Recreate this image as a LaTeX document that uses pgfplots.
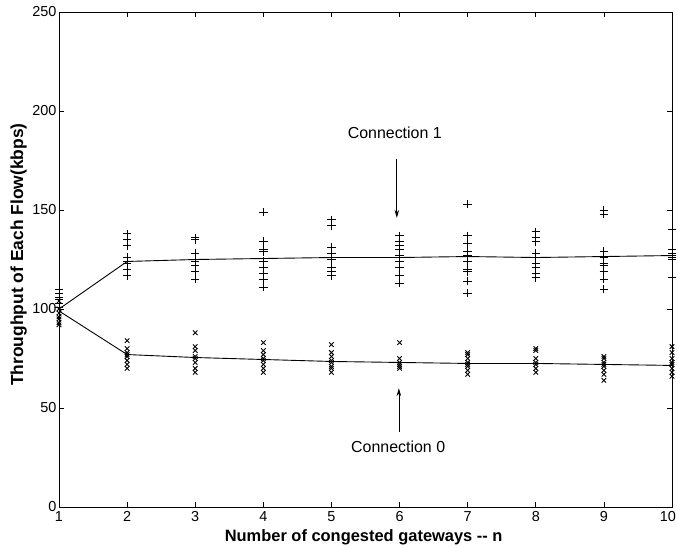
\documentclass[border=0pt]{standalone}
\usepackage{fontspec}
\setmainfont{Liberation Sans}
\usepackage{pgfplots}
\usepackage{pgfplotstable}
\usetikzlibrary{arrows.meta}
\pgfplotsset{compat=1.18}

% Per-run throughput samples, connection 1 (+) and connection 0 (x)
\pgfplotstableread{
n thr
1 110
1 108
1 106
1 105
1 103
1 101
2 138
2 135
2 132
2 126
2 124
2 123
2 120
2 117
3 136
3 135
3 128
3 125
3 124
3 122
3 119
3 115
4 149
4 134
4 130
4 129
4 124
4 121
4 118
4 115
4 111
5 145
5 142
5 131
5 128
5 125
5 121
5 119
5 117
6 137
6 134
6 132
6 130
6 127
6 124
6 121
6 117
6 113
7 153
7 137
7 133
7 129
7 127
7 124
7 120
7 119
7 114
7 108
8 139
8 136
8 134
8 128
8 126
8 123
8 121
8 118
8 116
9 150
9 148
9 129
9 126
9 123
9 122
9 119
9 115
9 110
10 140
10 130
10 128
10 127
10 126
10 125
10 116
}\connA

\pgfplotstableread{
n thr
1 104
1 100
1 98
1 96
1 95
1 93
1 92
2 84
2 80
2 78
2 77
2 76
2 74
2 72
2 70
3 88
3 81
3 79
3 76
3 75
3 73
3 70
3 68
4 83
4 79
4 77
4 75
4 74
4 72
4 70
4 68
5 82
5 78
5 76
5 74
5 73
5 71
5 70
5 68
6 83
6 75
6 73
6 72
6 71
6 70
7 78
7 77
7 75
7 73
7 72
7 71
7 69
7 67
8 80
8 79
8 75
8 73
8 72
8 70
8 68
9 76
9 75
9 73
9 72
9 71
9 69
9 67
9 64
10 81
10 78
10 75
10 73
10 72
10 70
10 68
10 66
}\connB

% Mean throughput per number of gateways
\pgfplotstableread{
n a b
1 100 99
2 124 77
3 125 75.5
4 125.5 74.5
5 126 73.5
6 126 73
7 126.5 72.5
8 126 72.5
9 126.5 72
10 127 71.5
}\means

\begin{document}
\begin{tikzpicture}[x=1bp,y=1bp]
\useasboundingbox (-59bp,-41bp) rectangle (619bp,507bp);
\begin{axis}[
  at={(0,0)}, anchor=south west,
  scale only axis, width=613bp, height=495bp,
  xmin=1, xmax=10, ymin=0, ymax=250,
  xtick={1,...,10}, ytick={0,50,...,250},
  tick align=inside, major tick length=5bp,
  tick style={line width=0.7pt, black},
  axis line style={line width=0.9pt},
  /pgf/number format/assume math mode=true,
  ticklabel style={font=\fontsize{14.5}{16}\selectfont},
  xticklabel style={yshift=-1bp},
  % keep the last label inside the page edge
  xticklabel={\ifnum\ticknum=9 \makebox[8bp][r]{\pgfmathprintnumber{\tick}}\else\pgfmathprintnumber{\tick}\fi},
  yticklabel style={xshift=1bp},
  xlabel={Number of congested gateways -{}- n},
  ylabel={Throughput of Each Flow(kbps)},
  x label style={font=\bfseries\fontsize{16.5}{18}\selectfont,
                 at={(axis description cs:0.497,-0.061)}, anchor=center},
  y label style={font=\bfseries\fontsize{17.5}{19}\selectfont,
                 at={(axis description cs:-0.066,0.51)}, anchor=center},
  clip=false,
]
\addplot[only marks, mark=+, mark size=4.2bp, line width=0.9pt] table[x=n, y=thr] {\connA};
\addplot[only marks, mark=x, mark size=3.2bp, line width=0.9pt] table[x=n, y=thr] {\connB};
\addplot[black, line width=0.9pt] table[x=n, y=a] {\means};
\addplot[black, line width=0.9pt] table[x=n, y=b] {\means};

\node[font=\fontsize{16}{18}\selectfont] at (axis cs:5.93,189) {Connection 1};
\draw[-{Stealth[length=8bp,width=4.5bp]}, line width=0.7pt] (axis cs:5.96,176) -- (axis cs:5.96,146);
\node[font=\fontsize{16}{18}\selectfont] at (axis cs:5.98,30.3) {Connection 0};
\draw[-{Stealth[length=8bp,width=4.5bp]}, line width=0.7pt] (axis cs:5.99,38) -- (axis cs:5.99,60);
\end{axis}
\end{tikzpicture}
\end{document}
